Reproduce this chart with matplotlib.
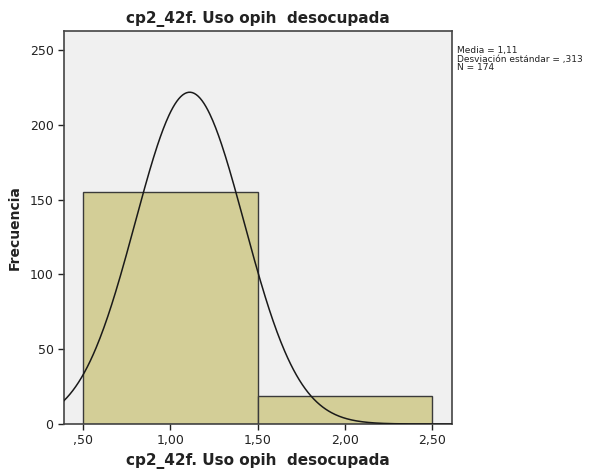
import numpy as np
import matplotlib.pyplot as plt

# datos del histograma
bin_edges = [0.5, 1.5, 2.5]
frecuencias = [155, 19]
media = 1.11
desv = 0.313
n = 174
x_ticks = [0.5, 1.0, 1.5, 2.0, 2.5]
x_labels = [',50', '1,00', '1,50', '2,00', '2,50']
y_ticks = [0, 50, 100, 150, 200, 250]

titulo = 'cp2_42f. Uso opih  desocupada'

fig = plt.figure(figsize=(5.93, 4.72), dpi=100)
ax = fig.add_axes([64 / 593, 1 - 424 / 472, 388 / 593, 393 / 472])
ax.set_facecolor('#f0f0f0')

# barras
anchos = np.diff(bin_edges)
ax.bar(bin_edges[:-1], frecuencias, width=anchos, align='edge',
       color='#d3ce97', edgecolor='#3a3a3a', linewidth=1.0, zorder=2)

# curva normal
xs = np.linspace(0.389, 2.615, 400)
ys = n * anchos[0] / (desv * np.sqrt(2 * np.pi)) * np.exp(-0.5 * ((xs - media) / desv) ** 2)
ax.plot(xs, ys, color='#1a1a1a', linewidth=1.1, zorder=3)

ax.set_xlim(0.389, 2.615)
ax.set_ylim(0, 262.7)
ax.set_xticks(x_ticks)
ax.set_xticklabels(x_labels)
ax.set_yticks(y_ticks)
ax.tick_params(direction='out', length=4, width=1, labelsize=9, colors='#222222')

for s in ax.spines.values():
    s.set_color('#444444')
    s.set_linewidth(1.2)

ax.set_title(titulo, fontsize=11, fontweight='bold', color='#222222', pad=6)
ax.set_xlabel(titulo, fontsize=11, fontweight='bold', color='#222222', labelpad=4)
ax.set_ylabel('Frecuencia', fontsize=10, fontweight='bold', color='#222222', labelpad=6)

fig.text(457 / 593, 1 - 46 / 472,
         'Media = 1,11\nDesviación estándar = ,313\nN = 174',
         fontsize=6.5, va='top', ha='left', color='#222222', linespacing=0.95)

fig.savefig('out.png', dpi=100)
